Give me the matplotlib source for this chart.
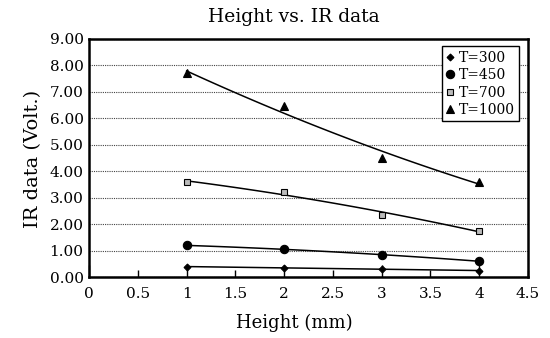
import matplotlib
matplotlib.use('Agg')
import matplotlib.pyplot as plt
import numpy as np

plt.rcParams['font.family'] = ['DejaVu Serif']

# data
height = [1, 2, 3, 4]
ir_300 = [0.40, 0.35, 0.30, 0.25]
ir_450 = [1.20, 1.05, 0.85, 0.60]
ir_700 = [3.60, 3.22, 2.35, 1.75]
ir_1000 = [7.70, 6.45, 4.50, 3.60]
labels = ['T=300', 'T=450', 'T=700', 'T=1000']

fig = plt.figure(figsize=(5.5, 3.38), dpi=100)
ax = fig.add_axes([0.162, 0.180, 0.798, 0.705])

series = [ir_300, ir_450, ir_700, ir_1000]
markers = ['D', 'o', 's', '^']
msizes = [3.5, 6, 4, 6]
mfaces = ['black', 'black', '#bbbbbb', 'black']

x = np.array(height, dtype=float)
xx = np.linspace(1, 4, 40)
for ys, m, ms, mf, lab in zip(series, markers, msizes, mfaces, labels):
    ax.plot(height, ys, linestyle='none', marker=m, markersize=ms,
            markerfacecolor=mf, markeredgecolor='black', markeredgewidth=0.8,
            label=lab, zorder=3)
    # 2nd order polynomial trendline
    coef = np.polyfit(x, ys, 2)
    ax.plot(xx, np.polyval(coef, xx), color='black', linewidth=1.1, zorder=2)

ax.set_xlim(0, 4.5)
ax.set_ylim(0, 9)
ax.set_xticks([0, 1, 2, 3, 4])
ax.set_xticks([0.5, 1.5, 2.5, 3.5, 4.5], minor=True)
ax.set_xticklabels(['0', '1', '2', '3', '4'])
ax.set_xticklabels(['0.5', '1.5', '2.5', '3.5', '4.5'], minor=True)
ax.set_yticks(np.arange(0, 9.01, 1))
ax.set_yticklabels(['%.2f' % v for v in np.arange(0, 9.01, 1)])
ax.tick_params(axis='x', which='major', direction='in', length=9, width=1,
               labelsize=11, pad=7)
ax.tick_params(axis='x', which='minor', direction='in', length=5, width=1,
               labelsize=11, pad=7)
ax.tick_params(axis='y', direction='in', length=0, labelsize=11, pad=4)
ax.yaxis.grid(True, linestyle=(0, (1, 1)), color='#444444', linewidth=0.8)
ax.set_axisbelow(True)
for s in ax.spines.values():
    s.set_linewidth(1.8)

leg = ax.legend(loc='upper right', bbox_to_anchor=(0.985, 0.98), fontsize=10,
                handlelength=0.6, handletextpad=0.3, borderpad=0.3,
                labelspacing=0.25, fancybox=False, framealpha=1,
                edgecolor='black', borderaxespad=0.2)
leg.get_frame().set_linewidth(1.0)

fig.text(294 / 550, 1 - 17 / 338, 'Height vs. IR data', ha='center', va='center',
         fontsize=13.5)
fig.text(294 / 550, 1 - 323 / 338, 'Height (mm)', ha='center', va='center',
         fontsize=13)
fig.text(33 / 550, 1 - 159 / 338, 'IR data (Volt.)', ha='center', va='center',
         rotation=90, fontsize=14)

fig.savefig('out.png', dpi=100, facecolor='white')
